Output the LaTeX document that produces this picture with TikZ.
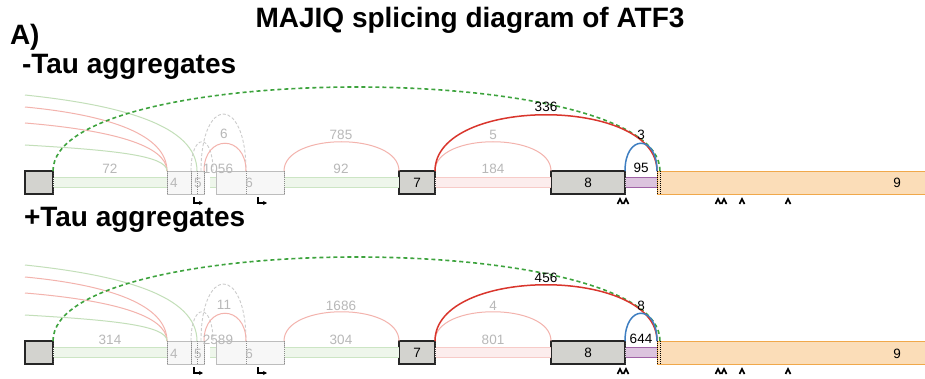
\documentclass[tikz,border=0pt]{standalone}
\usepackage{fontspec}
\setmainfont{Liberation Sans}
\usetikzlibrary{arrows.meta}
\definecolor{exongrey}{HTML}{D3D3CF}
\definecolor{ghostfill}{HTML}{F7F7F7}
\definecolor{ghostline}{HTML}{BDBDBD}
\definecolor{ghosttext}{HTML}{B8B8B8}
\definecolor{greenfill}{HTML}{EEF6EB}
\definecolor{greenline}{HTML}{CCE5C4}
\definecolor{greenarc}{HTML}{C3DFB9}
\definecolor{pinkfill}{HTML}{FCEDED}
\definecolor{pinkline}{HTML}{F7CBC8}
\definecolor{pinkarc}{HTML}{F3B3AD}
\definecolor{purplefill}{HTML}{DCC4DE}
\definecolor{purpleline}{HTML}{A062A6}
\definecolor{orangefill}{HTML}{FBDDB8}
\definecolor{orangeline}{HTML}{F0A84A}
\definecolor{junred}{HTML}{D9352C}
\definecolor{junblue}{HTML}{3E7EC1}
\definecolor{jungreen}{HTML}{3DA33D}
\begin{document}
\begin{tikzpicture}[x=1pt, y=-1pt,
    every node/.style={inner sep=0pt, outer sep=0pt},
    heading/.style={font=\bfseries\fontsize{28}{32}\selectfont, anchor=base west},
    num/.style={font=\fontsize{13.5}{16}\selectfont, anchor=base},
    ghostnum/.style={num, text=ghosttext},
    exon/.style={draw=black!85, line width=1.2pt, fill=exongrey, anchor=north west,
      minimum height=23pt, font=\fontsize{13.5}{16}\selectfont},
    ghostexon/.style={exon, draw=ghostline, line width=0.7pt, fill=ghostfill},
    lastexon/.style={exon, draw=orangeline, line width=0.9pt, fill=orangefill},
    gintron/.style={draw=greenline, line width=0.8pt, double=greenfill, double distance=9.4pt},
    pintron/.style={gintron, draw=pinkline, double=pinkfill},
    vintron/.style={gintron, draw=purpleline, double=purplefill},
    site/.style={line width=1pt, dash pattern=on 1pt off 1pt, black!75},
    ghostsite/.style={site, black!45},
    fadegreen/.style={greenarc, line width=1pt},
    fadered/.style={pinkarc, line width=1pt},
    fadegrey/.style={black!20, line width=0.9pt, dash pattern=on 3pt off 2pt},
    jred/.style={junred, line width=1.5pt},
    jblue/.style={junblue, line width=1.5pt},
    jgreen/.style={jungreen, line width=1.6pt, dash pattern=on 4pt off 3pt},
    tss/.style={line width=1.3pt, -{Stealth[length=4pt,width=4pt]}},
    caret/.style={line width=1.6pt},
  ]
  \useasboundingbox (0,0) rectangle (925,379);
  \fill[white] (0,0) rectangle (925,379);

  \node[heading, anchor=base] (title) at (470,28) {MAJIQ splicing diagram of ATF3};
  \node[heading] (panel) at (10,45) {A)};
  \node[heading] (minus) at (22,74) {-Tau aggregates};
  \node[heading] (plus) at (24,226) {+Tau aggregates};

  \foreach \p/\dy/\cA/\cB/\cC/\cD/\cE/\cF/\cG/\cH/\cI/\cJ in
    {t/0/72/1056/6/785/92/5/184/336/3/95, b/170/314/2589/11/1686/304/4/801/456/8/644}{
  \begin{scope}[yshift=-\dy pt]
    % exons
    \node[exon, minimum width=28pt] (e1\p) at (25,171) {};
    \node[ghostexon, minimum width=24pt] (e4\p) at (167,171) {};
    \node[ghostexon, minimum width=13pt] (e5\p) at (191,171) {};
    \node[ghostexon, minimum width=68pt] (e6\p) at (216,171) {};
    \node[exon, minimum width=36pt] (e7\p) at (399,171) {7};
    \node[exon, minimum width=74pt] (e8\p) at (551,171) {8};
    \node[lastexon, minimum width=290pt] (e9\p) at (657,171) {};
    % free ends
    \coordinate (l1\p) at (25,95);
    \coordinate (l2\p) at (25,107);
    \coordinate (l3\p) at (25,123);
    \coordinate (l4\p) at (25,145);
    \coordinate (i6\p) at (210,182.5);
    \coordinate (s5\p) at (197,171);
    \coordinate (s5b\p) at (213,171);
    \coordinate (s6a\p) at (201,171);
    \coordinate (s6\p) at (246,171);
    \coordinate (s9\p) at (660,171);
    % introns
    \draw[gintron] (e1\p.east) -- (e4\p.west);
    \draw[gintron] (i6\p) -- (e6\p.west);
    \draw[gintron] (e6\p.east) -- (e7\p.west);
    \draw[pintron] (e7\p.east) -- (e8\p.west);
    \draw[vintron] (e8\p.east) -- (e9\p.west);
    % splice sites
    \draw[site] (e1\p.north east) -- (e1\p.south east);
    \draw[ghostsite] (e4\p.north west) -- (e4\p.south west);
    \draw[ghostsite] (e5\p.north west) -- (e5\p.south west);
    \draw[ghostsite] (197,171) -- (197,194);
    \draw[ghostsite] (e5\p.north east) -- (e5\p.south east);
    \draw[ghostsite] (246,171) -- (246,194);
    \draw[ghostsite] (e6\p.north east) -- (e6\p.south east);
    \draw[site] (e7\p.north east) -- (e7\p.south east);
    \draw[site] (e8\p.north east) -- (e8\p.south east);
    \draw[site, black] (e9\p.north west) -- (e9\p.south west);
    \draw[site, black] (660,171) -- (660,194);
    % junctions
    \draw[fadegreen] (l1\p) .. controls (120,105) and (197,125) .. (s5\p);
    \draw[fadered] (l2\p) .. controls (110,115) and (167,135) .. (e4\p.north west);
    \draw[fadered] (l3\p) .. controls (110,130) and (167,145) .. (e4\p.north west);
    \draw[fadegreen] (l4\p) .. controls (110,150) and (167,155) .. (e4\p.north west);
    \draw[fadegrey] (e5\p.north west) .. controls +(0,-39) and +(0,-39) .. (s5b\p);
    \draw[fadegrey] (s6a\p) .. controls +(0,-76) and +(0,-76) .. (s6\p);
    \draw[fadered] (e5\p.north east) .. controls +(0,-37) and +(0,-37) .. (s6\p);
    \draw[fadered] (e6\p.north east) .. controls +(0,-39) and +(0,-39) .. (e7\p.north west);
    \draw[fadered] (e7\p.north east) .. controls +(0,-39) and +(0,-39) .. (e8\p.north west);
    \draw[jgreen] (e1\p.north east) .. controls +(0,-112) and +(0,-112) .. (s9\p);
    \draw[jred] (e7\p.north east) .. controls +(0,-75) and +(0,-75) .. (e9\p.north west);
    \draw[jblue] (e8\p.north east) .. controls +(0,-37) and +(0,-37) .. (e9\p.north west);
    % read counts
    \node[ghostnum] (nA\p) at (110,174) {\cA};
    \node[ghostnum] (nB\p) at (218,174) {\cB};
    \node[ghostnum] (nC\p) at (224,139) {\cC};
    \node[ghostnum] (nD\p) at (341,140) {\cD};
    \node[ghostnum] (nE\p) at (341,174) {\cE};
    \node[ghostnum] (nF\p) at (493,140) {\cF};
    \node[ghostnum] (nG\p) at (493,174) {\cG};
    \node[num] (nH\p) at (546,112) {\cH};
    \node[num] (nI\p) at (641,140) {\cI};
    \node[num] (nJ\p) at (641,173) {\cJ};
    % exon numbers
    \node[ghostnum] (x4\p) at (174,188) {4};
    \node[ghostnum] (x5\p) at (198,188) {5};
    \node[ghostnum] (x6\p) at (249,188) {6};
    \node[num] (x9\p) at (897,188) {9};
    % start sites and markers
    \draw[tss] (194,197) -- (194,203) -- (203,203);
    \draw[tss] (258,197) -- (258,203) -- (267,203);
    \foreach \x in {620,626,718,724,742,788}
      \draw[caret] (\x-2.5,204) -- (\x,199) -- (\x+2.5,204);
  \end{scope}
  }
\end{tikzpicture}
\end{document}
